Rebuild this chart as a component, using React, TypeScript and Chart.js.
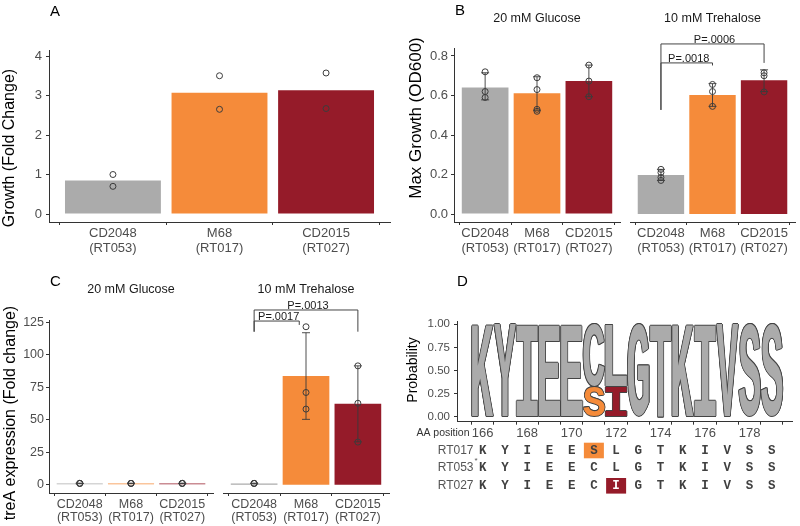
import React, { useEffect, useRef } from 'react';
import { Chart, registerables } from 'chart.js';
Chart.register(...registerables);

const FONT = '"Liberation Sans", Arial, sans-serif';
const MONO = '"Liberation Mono", "Courier New", monospace';
const TICK_COLOR = '#4D4D4D';
const AXIS_COLOR = '#333333';

// ---------- shared categories ----------
const strains = ['CD2048', 'M68', 'CD2015'];
const ribotypes = ['(RT053)', '(RT017)', '(RT027)'];
const strainColors = ['#ABABAB', '#F58B3A', '#951B29'];

// ---------- Panel A ----------
const growthFoldMean = [0.85, 3.07, 3.13];
const growthFoldReps = [[1.0, 0.7], [3.5, 2.65], [3.57, 2.67]];
const growthFoldTicks = [0, 1, 2, 3, 4];

// ---------- Panel B ----------
const odTicks = [0, 0.2, 0.4, 0.6, 0.8];
const odGlucoseMean = [0.64, 0.611, 0.673];
const odGlucoseReps = [[0.72, 0.62, 0.59], [0.69, 0.63, 0.53, 0.52], [0.754, 0.673, 0.594]];
const odGlucoseErrLow = [0.578, 0.525, 0.594];
const odGlucoseErrHigh = [0.715, 0.695, 0.754];
const odTrehaloseMean = [0.198, 0.603, 0.677];
const odTrehaloseReps = [[0.226, 0.21, 0.185, 0.17], [0.656, 0.62, 0.545], [0.715, 0.70, 0.618]];
const odTrehaloseErrLow = [0.17, 0.545, 0.62];
const odTrehaloseErrHigh = [0.226, 0.66, 0.73];
const odTrehaloseTests = [
  { from: 1, to: 2, y: 0.765, fromEnd: 0.527, toEnd: 0.752, label: 'P=.0018' },
  { from: 1, to: 3, y: 0.861, fromEnd: 0.527, toEnd: 0.765, label: 'P=.0006' },
];

// ---------- Panel C ----------
const treATicks = [0, 25, 50, 75, 100, 125];
const treAGlucoseMean = [1, 1, 1];
const treAGlucoseReps = [[1, 1, 1], [1, 1, 1], [1, 1, 1]];
const treAGlucoseErrLow = [0.8, 0.8, 0.8];
const treAGlucoseErrHigh = [1.2, 1.2, 1.2];
const treATrehaloseMean = [1, 83.7, 62.3];
const treATrehaloseReps = [[1, 1, 1], [121.6, 71, 58.2], [91.5, 62.7, 32.8]];
const treATrehaloseErrLow = [0.8, 50.3, 33];
const treATrehaloseErrHigh = [1.2, 117, 91.5];
const treATrehaloseTests = [
  { from: 1, to: 1.87, y: 126, fromEnd: 117.8, toEnd: 123, label: 'P=.0017' },
  { from: 1, to: 3, y: 134.5, fromEnd: 117.8, toEnd: 117.8, label: 'P=.0013' },
];

// ---------- Panel D ----------
const aaPositions = [166, 167, 168, 169, 170, 171, 172, 173, 174, 175, 176, 177, 178, 179];
const logoConsensus = ['K', 'Y', 'I', 'E', 'E', 'C', 'L', 'G', 'T', 'K', 'I', 'V', 'S', 'S'];
const logoConsensusProb = [1, 1, 1, 1, 1, 0.667, 0.667, 1, 1, 1, 1, 1, 1, 1];
const logoVariant = ['', '', '', '', '', 'S', 'I', '', '', '', '', '', '', ''];
const logoVariantProb = [0, 0, 0, 0, 0, 0.333, 0.333, 0, 0, 0, 0, 0, 0, 0];
const logoVariantStrain = [-1, -1, -1, -1, -1, 1, 2, -1, -1, -1, -1, -1, -1, -1];
const probTicks = [0, 0.25, 0.5, 0.75, 1];
const seqNames = ['RT017', 'RT053', 'RT027'];
const seqRT017 = ['K', 'Y', 'I', 'E', 'E', 'S', 'L', 'G', 'T', 'K', 'I', 'V', 'S', 'S'];
const seqRT053 = ['K', 'Y', 'I', 'E', 'E', 'C', 'L', 'G', 'T', 'K', 'I', 'V', 'S', 'S'];
const seqRT027 = ['K', 'Y', 'I', 'E', 'E', 'C', 'I', 'G', 'T', 'K', 'I', 'V', 'S', 'S'];
const seqStrainIndex = [1, 0, 2];

type Box = { left: number; top: number; width: number; height: number };

function ChartCanvas({ box, make }: { box: Box; make: () => any }) {
  const ref = useRef<HTMLCanvasElement>(null);
  useEffect(() => {
    const chart = new Chart(ref.current as HTMLCanvasElement, make());
    return () => chart.destroy();
  }, []);
  return (
    <canvas
      ref={ref}
      width={box.width}
      height={box.height}
      style={{ position: 'absolute', left: box.left, top: box.top, width: box.width, height: box.height }}
    />
  );
}

function drawYTitle(ctx: CanvasRenderingContext2D, text: string, x: number, y: number, size: number) {
  ctx.save();
  ctx.translate(x, y);
  ctx.rotate(-Math.PI / 2);
  ctx.font = `${size}px ${FONT}`;
  ctx.fillStyle = '#000';
  ctx.textAlign = 'center';
  ctx.textBaseline = 'middle';
  ctx.fillText(text, 0, 0);
  ctx.restore();
}

function axisStyle() {
  return {
    grid: { drawOnChartArea: false, drawTicks: true, tickLength: 3, color: AXIS_COLOR, lineWidth: 1 },
    border: { display: true, color: AXIS_COLOR, width: 1 },
  };
}

type FacetOpts = {
  means: number[];
  reps: number[][];
  errLow?: number[];
  errHigh?: number[];
  pad: { left: number; right: number; top: number; bottom: number };
  yWidth: number;
  xHeight: number;
  yMin: number;
  yMax: number;
  yTicks: number[];
  yFmt: (v: number) => string;
  showY: boolean;
  yTickSize: number;
  yTickPad: number;
  xTickSize: number;
  xTickLH: number;
  xTickPad: number;
  strip?: string;
  stripY?: number;
  tests?: { from: number; to: number; y: number; fromEnd: number; toEnd: number; label: string }[];
  yTitle?: { text: string; x: number; y: number; size: number };
};

function facetChart(o: FacetOpts) {
  const points: { x: number; y: number }[] = [];
  o.reps.forEach((arr, i) => arr.forEach((v) => points.push({ x: i + 1, y: v })));
  const plugin = {
    id: 'facetExtras',
    afterDatasetDraw(chart: any, args: any) {
      if (args.index !== 1 || !o.errLow || !o.errHigh) return;
      const { ctx } = chart;
      const xs = chart.scales.x;
      const ys = chart.scales.y;
      ctx.save();
      ctx.strokeStyle = '#3a3a3a';
      ctx.lineWidth = 0.9;
      o.errLow.forEach((lo, i) => {
        const hi = (o.errHigh as number[])[i];
        const px = xs.getPixelForValue(i + 1);
        const pl = ys.getPixelForValue(lo);
        const ph = ys.getPixelForValue(hi);
        const cap = 4;
        ctx.beginPath();
        ctx.moveTo(px, pl);
        ctx.lineTo(px, ph);
        ctx.moveTo(px - cap, pl);
        ctx.lineTo(px + cap, pl);
        ctx.moveTo(px - cap, ph);
        ctx.lineTo(px + cap, ph);
        ctx.stroke();
      });
      ctx.restore();
    },
    afterDraw(chart: any) {
      const { ctx, chartArea } = chart;
      const xs = chart.scales.x;
      const ys = chart.scales.y;
      if (o.strip) {
        ctx.save();
        ctx.font = `12.5px ${FONT}`;
        ctx.fillStyle = '#1a1a1a';
        ctx.textAlign = 'center';
        ctx.textBaseline = 'middle';
        ctx.fillText(o.strip, (chartArea.left + chartArea.right) / 2, o.stripY);
        ctx.restore();
      }
      if (o.tests) {
        ctx.save();
        ctx.strokeStyle = '#444';
        ctx.lineWidth = 1;
        o.tests.forEach((t) => {
          const x1 = xs.getPixelForValue(t.from);
          const x2 = xs.getPixelForValue(t.to);
          const py = ys.getPixelForValue(t.y);
          ctx.beginPath();
          ctx.moveTo(x1, ys.getPixelForValue(t.fromEnd));
          ctx.lineTo(x1, py);
          ctx.lineTo(x2, py);
          ctx.lineTo(x2, ys.getPixelForValue(t.toEnd));
          ctx.stroke();
          ctx.font = `11px ${FONT}`;
          ctx.fillStyle = '#1a1a1a';
          ctx.textAlign = 'center';
          ctx.textBaseline = 'alphabetic';
          ctx.fillText(t.label, (x1 + x2) / 2 + 2, py - 1);
        });
        ctx.restore();
      }
      if (o.yTitle) drawYTitle(ctx, o.yTitle.text, o.yTitle.x, o.yTitle.y, o.yTitle.size);
    },
  };
  const ax = axisStyle();
  return {
    type: 'bar',
    data: {
      datasets: [
        {
          type: 'scatter',
          data: points,
          order: 0,
          pointRadius: 3,
          pointBorderWidth: 1,
          pointBorderColor: '#3c3c3c',
          pointBackgroundColor: 'rgba(255,255,255,0)',
        },
        {
          type: 'bar',
          data: o.means.map((v, i) => ({ x: i + 1, y: v })),
          backgroundColor: strainColors,
          order: 1,
          barPercentage: 0.9,
          categoryPercentage: 1,
        },
      ],
    },
    options: {
      responsive: false,
      animation: false,
      devicePixelRatio: 1,
      layout: { padding: o.pad },
      plugins: { legend: { display: false }, tooltip: { enabled: false }, title: { display: false } },
      scales: {
        x: {
          type: 'linear',
          offset: false,
          min: 0.4,
          max: 3.6,
          bounds: 'data',
          afterBuildTicks: (s: any) => {
            s.ticks = strains.map((_, i) => ({ value: i + 1 }));
          },
          afterFit: (s: any) => {
            s.height = o.xHeight;
            s.paddingLeft = 0;
            s.paddingRight = 0;
          },
          ...ax,
          ticks: {
            autoSkip: false,
            maxRotation: 0,
            minRotation: 0,
            color: TICK_COLOR,
            padding: o.xTickPad,
            font: { family: FONT, size: o.xTickSize, lineHeight: o.xTickLH },
            callback: (v: number) => {
              const i = Math.round(v) - 1;
              return [strains[i], ribotypes[i]];
            },
          },
        },
        y: {
          type: 'linear',
          display: o.showY,
          min: o.yMin,
          max: o.yMax,
          bounds: 'data',
          afterBuildTicks: (s: any) => {
            s.ticks = o.yTicks.map((v) => ({ value: v }));
          },
          afterFit: (s: any) => {
            s.width = o.yWidth;
            s.paddingTop = 0;
            s.paddingBottom = 0;
          },
          ...ax,
          ticks: {
            color: TICK_COLOR,
            padding: o.yTickPad,
            font: { family: FONT, size: o.yTickSize },
            callback: (v: number) => o.yFmt(v),
          },
        },
      },
    },
    plugins: [plugin],
  };
}

function drawGlyph(
  ctx: CanvasRenderingContext2D,
  ch: string,
  x0: number,
  y0: number,
  w: number,
  h: number,
  fill: string,
  outline: string
) {
  if (w <= 0 || h <= 0) return;
  ctx.save();
  ctx.font = `bold 100px ${MONO}`;
  ctx.textAlign = 'left';
  ctx.textBaseline = 'alphabetic';
  const m = ctx.measureText(ch);
  const gw = m.actualBoundingBoxLeft + m.actualBoundingBoxRight;
  const gh = m.actualBoundingBoxAscent + m.actualBoundingBoxDescent;
  const sx = w / gw;
  const sy = h / gh;
  const put = (dx: number, dy: number, color: string) => {
    ctx.setTransform(sx, 0, 0, sy, x0 + dx + m.actualBoundingBoxLeft * sx, y0 + dy + m.actualBoundingBoxAscent * sy);
    ctx.fillStyle = color;
    ctx.fillText(ch, 0, 0);
  };
  const offs = [
    [-0.75, 0], [0.75, 0], [0, -0.75], [0, 0.75],
    [-0.55, -0.55], [0.55, 0.55], [-0.55, 0.55], [0.55, -0.55],
  ];
  offs.forEach((d) => put(d[0], d[1], outline));
  put(0, 0, fill);
  ctx.restore();
}

function logoChart() {
  const seqs = [seqRT017, seqRT053, seqRT027];
  const rowY = [190.5, 207.8, 225.8];
  const plugin = {
    id: 'logoExtras',
    afterDatasetsDraw(chart: any) {
      const { ctx } = chart;
      [0, 1].forEach((di) => {
        const meta = chart.getDatasetMeta(di);
        meta.data.forEach((el: any, k: number) => {
          const raw = chart.data.datasets[di].data[k];
          const i = raw.x - 1;
          const p = el.getProps(['x', 'y', 'base', 'width'], true);
          const top = Math.min(p.y, p.base);
          const bot = Math.max(p.y, p.base);
          const letter = di === 0 ? logoConsensus[i] : logoVariant[i];
          const fill = di === 0 ? '#ABABAB' : strainColors[logoVariantStrain[i]];
          if (!letter) return;
          drawGlyph(ctx, letter, p.x - p.width / 2, top, p.width, bot - top, fill, '#444444');
        });
      });
    },
    afterDraw(chart: any) {
      const { ctx } = chart;
      const xs = chart.scales.x;
      drawYTitle(ctx, 'Probability', 13, 110, 14);
      ctx.save();
      ctx.font = `10.5px ${FONT}`;
      ctx.fillStyle = '#333';
      ctx.textAlign = 'right';
      ctx.textBaseline = 'middle';
      ctx.fillText('AA position', 69.5, 173.5);
      seqs.forEach((seq, r) => {
        const y = rowY[r];
        ctx.font = `12px ${FONT}`;
        ctx.fillStyle = '#555';
        ctx.textAlign = 'right';
        ctx.textBaseline = 'middle';
        ctx.fillText(seqNames[r], 73.5, y);
        if (seqNames[r] === 'RT053') {
          ctx.font = `8px ${FONT}`;
          ctx.textAlign = 'center';
          ctx.fillText('*', 76, y - 7);
        }
        seq.forEach((ch, i) => {
          const px = xs.getPixelForValue(i + 1);
          const differs = ch !== seqRT053[i];
          if (differs) {
            ctx.fillStyle = strainColors[seqStrainIndex[r]];
            ctx.fillRect(px - 10, y - 7.8, 20, 15.6);
          }
          ctx.font = `bold 12.5px ${MONO}`;
          ctx.textAlign = 'center';
          ctx.textBaseline = 'middle';
          ctx.fillStyle = differs && seqStrainIndex[r] === 2 ? '#ffffff' : '#404040';
          ctx.fillText(ch, px, y + 0.5);
        });
      });
      ctx.restore();
    },
  };
  const ax = axisStyle();
  return {
    type: 'bar',
    data: {
      datasets: [
        {
          data: logoConsensus.map((_, i) => ({ x: i + 1, y: [logoVariantProb[i], logoVariantProb[i] + logoConsensusProb[i]] })),
          backgroundColor: 'rgba(0,0,0,0)',
          grouped: false,
          barPercentage: 0.97,
          categoryPercentage: 1,
        },
        {
          data: logoVariant
            .map((v, i) => ({ x: i + 1, y: [0, logoVariantProb[i]], v }))
            .filter((d) => d.v !== ''),
          backgroundColor: 'rgba(0,0,0,0)',
          grouped: false,
          barPercentage: 0.97,
          categoryPercentage: 1,
        },
      ],
    },
    options: {
      responsive: false,
      animation: false,
      devicePixelRatio: 1,
      layout: { padding: { left: 0, right: 8, top: 61, bottom: 0 } },
      plugins: { legend: { display: false }, tooltip: { enabled: false }, title: { display: false } },
      scales: {
        x: {
          type: 'linear',
          offset: false,
          min: -0.156,
          max: 14.91,
          bounds: 'data',
          afterBuildTicks: (s: any) => {
            s.ticks = aaPositions.map((_, i) => ({ value: i + 1 }));
          },
          afterFit: (s: any) => {
            s.height = 104.3;
            s.paddingLeft = 0;
            s.paddingRight = 0;
          },
          ...ax,
          ticks: {
            autoSkip: false,
            maxRotation: 0,
            minRotation: 0,
            color: TICK_COLOR,
            padding: 2.5,
            font: { family: FONT, size: 13, lineHeight: 1 },
            callback: (v: number) => {
              const a = aaPositions[Math.round(v) - 1];
              return a % 2 === 0 ? String(a) : '';
            },
          },
        },
        y: {
          type: 'linear',
          min: -0.054,
          max: 1.036,
          bounds: 'data',
          afterBuildTicks: (s: any) => {
            s.ticks = probTicks.map((v) => ({ value: v }));
          },
          afterFit: (s: any) => {
            s.width = 57;
            s.paddingTop = 0;
            s.paddingBottom = 0;
          },
          ...ax,
          ticks: {
            color: TICK_COLOR,
            padding: 4,
            font: { family: FONT, size: 11.5 },
            callback: (v: number) => v.toFixed(2),
          },
        },
      },
    },
    plugins: [plugin],
  };
}

const panelLetterStyle = (left: number, top: number): React.CSSProperties => ({
  position: 'absolute',
  left,
  top,
  fontFamily: FONT,
  fontSize: 15,
  lineHeight: 1,
  color: '#000',
});

export default function App() {
  const fmtInt = (v: number) => String(Math.round(v));
  const fmt1 = (v: number) => v.toFixed(1);
  return (
    <div style={{ position: 'absolute', left: 0, top: 0, width: 800, height: 526, background: '#fff', overflow: 'hidden' }}>
      {/* Panel A */}
      <ChartCanvas
        box={{ left: 0, top: 0, width: 400, height: 260 }}
        make={() =>
          facetChart({
            means: growthFoldMean,
            reps: growthFoldReps,
            pad: { left: 0, right: 10, top: 50, bottom: 0 },
            yWidth: 49,
            xHeight: 38,
            yMin: -0.2025,
            yMax: 4.152,
            yTicks: growthFoldTicks,
            yFmt: fmtInt,
            showY: true,
            yTickSize: 13,
            yTickPad: 4,
            xTickSize: 13,
            xTickLH: 1.15,
            xTickPad: 1,
            yTitle: { text: 'Growth (Fold Change)', x: 9.5, y: 148, size: 16 },
          })
        }
      />
      {/* Panel B */}
      <ChartCanvas
        box={{ left: 400, top: 0, width: 225, height: 260 }}
        make={() =>
          facetChart({
            means: odGlucoseMean,
            reps: odGlucoseReps,
            errLow: odGlucoseErrLow,
            errHigh: odGlucoseErrHigh,
            pad: { left: 0, right: 3, top: 48, bottom: 0 },
            yWidth: 54,
            xHeight: 38,
            yMin: -0.0405,
            yMax: 0.8405,
            yTicks: odTicks,
            yFmt: fmt1,
            showY: true,
            yTickSize: 13,
            yTickPad: 3,
            xTickSize: 13,
            xTickLH: 1.15,
            xTickPad: 1,
            strip: '20 mM Glucose',
            stripY: 18.5,
            yTitle: { text: 'Max Growth (OD600)', x: 16.7, y: 118, size: 17 },
          })
        }
      />
      <ChartCanvas
        box={{ left: 625, top: 0, width: 175, height: 260 }}
        make={() =>
          facetChart({
            means: odTrehaloseMean,
            reps: odTrehaloseReps,
            errLow: odTrehaloseErrLow,
            errHigh: odTrehaloseErrHigh,
            pad: { left: 4, right: 3, top: 48, bottom: 0 },
            yWidth: 0,
            xHeight: 38,
            yMin: -0.0405,
            yMax: 0.8405,
            yTicks: odTicks,
            yFmt: fmt1,
            showY: false,
            yTickSize: 13,
            yTickPad: 3,
            xTickSize: 13,
            xTickLH: 1.15,
            xTickPad: 1,
            strip: '10 mM Trehalose',
            stripY: 18.5,
            tests: odTrehaloseTests,
          })
        }
      />
      {/* Panel C */}
      <ChartCanvas
        box={{ left: 0, top: 260, width: 218, height: 266 }}
        make={() =>
          facetChart({
            means: treAGlucoseMean,
            reps: treAGlucoseReps,
            errLow: treAGlucoseErrLow,
            errHigh: treAGlucoseErrHigh,
            pad: { left: 0, right: 2.5, top: 60, bottom: 0 },
            yWidth: 49,
            xHeight: 33,
            yMin: -6.4,
            yMax: 126.8,
            yTicks: treATicks,
            yFmt: fmtInt,
            showY: true,
            yTickSize: 12.5,
            yTickPad: 2,
            xTickSize: 12.5,
            xTickLH: 1.0,
            xTickPad: 2.5,
            strip: '20 mM Glucose',
            stripY: 29.3,
            yTitle: { text: 'treA expression (Fold change)', x: 11, y: 153, size: 16 },
          })
        }
      />
      <ChartCanvas
        box={{ left: 218, top: 260, width: 182, height: 266 }}
        make={() =>
          facetChart({
            means: treATrehaloseMean,
            reps: treATrehaloseReps,
            errLow: treATrehaloseErrLow,
            errHigh: treATrehaloseErrHigh,
            pad: { left: 3, right: 11, top: 60, bottom: 0 },
            yWidth: 0,
            xHeight: 33,
            yMin: -6.4,
            yMax: 126.8,
            yTicks: treATicks,
            yFmt: fmtInt,
            showY: false,
            yTickSize: 12.5,
            yTickPad: 2,
            xTickSize: 12.5,
            xTickLH: 1.0,
            xTickPad: 2.5,
            strip: '10 mM Trehalose',
            stripY: 29.3,
            tests: treATrehaloseTests,
          })
        }
      />
      {/* Panel D */}
      <ChartCanvas box={{ left: 400, top: 260, width: 400, height: 266 }} make={logoChart} />
      <div style={panelLetterStyle(50, 3)}>A</div>
      <div style={panelLetterStyle(455, 1.5)}>B</div>
      <div style={panelLetterStyle(50, 273)}>C</div>
      <div style={panelLetterStyle(457, 273)}>D</div>
    </div>
  );
}
